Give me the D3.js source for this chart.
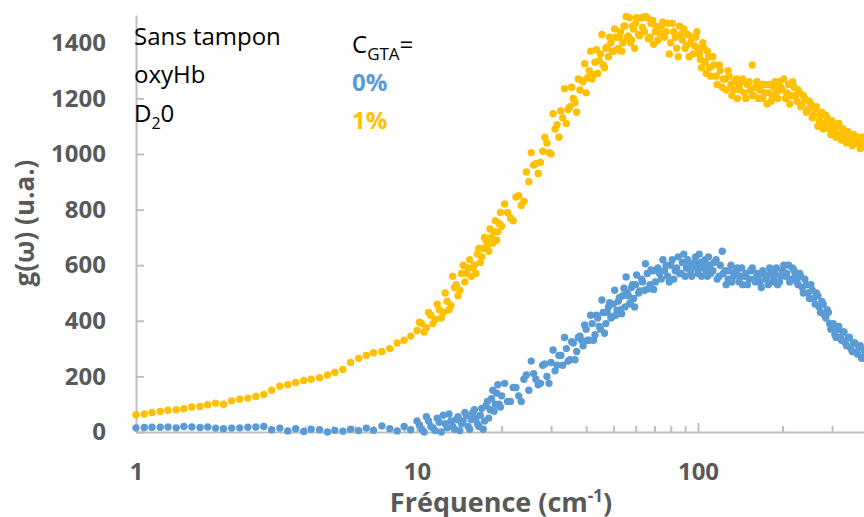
<!DOCTYPE html>
<html>
<head>
<meta charset="utf-8">
<script src="https://cdn.jsdelivr.net/npm/d3@7"></script>
<style>
    body { margin: 0; background: #fff; }
    svg { display: block; font-family: "Open Sans", sans-serif; }
</style>
</head>
<body>
<svg id="chart" width="864" height="517"></svg>
<script>
// g(w) for C_GTA = 0% (blue), [frequency cm-1, value]
var gta0 = [
    [1.0,15],[1.07,16],[1.14,17],[1.22,17],[1.3,18],[1.39,15],[1.48,20],[1.58,18],[1.69,16],[1.8,18],
    [1.92,14],[2.05,12],[2.19,14],[2.34,15],[2.5,17],[2.67,18],[2.85,20],[3.04,8],[3.25,14],[3.47,4],
    [3.7,12],[3.95,2],[4.2,10],[4.5,8],[4.8,0],[5.1,6],[5.45,3],[5.8,10],[6.2,5],[6.6,14],
    [7.0,6],[7.5,22],[8.0,12],[8.5,4],[9.0,20],[9.5,8],[10,40],
    [10.4,10],[10.8,55],[11.2,20],[11.6,5],[12.0,35],[12.4,60],[12.8,15],[13.2,40],[13.6,10],[14.0,55],
    [14.4,30],[14.8,70],[15.2,20],[15.6,45],[16.0,80],[16.4,30],[16.8,60],[17.2,10],[17.6,95],[18.0,50],
    [18.4,120],[18.8,75],[19.2,140],[19.6,100],[20.0,130],
    [21,110],[22,160],[23,130],[24,190],[25,150],[26,210],[27,170],[28,240],[29,200],[30,250],
    [31,220],[32,275],[33,240],[34,300],[35,260],[36,320],[37,290],[38,345],[39,310],[40,370],
    [41,330],[42,390],[43,350],[44,410],[45,370],[46,430],[47,390],[48,450],[49,410],[50,460],
    [51,420],[52,470],[53,440],[54,490],[55,450],[56,500],[57,460],[58,520],[59,480],[60,530],
    [61.5,500],[63,550],[64.5,510],[66,570],[67.5,530],[69,580],[70.5,540],[72,590],[74,550],[76,580],
    [78,560],[80,600],[82,550],[84,590],[86,570],[88,610],[90,560],[92,620],[94,580],[96,600],
    [98,630],[100,570],[102,610],[104,590],[106,620],[108,560],[110,600],[113,580],[116,620],[119,560],
    [122,650],[125,580],[128,550],[131,600],[134,560],[137,580],[140,540],[143,590],[146,560],[150,530],
    [154,580],[158,550],[162,570],[166,540],[170,580],[174,550],[178,530],[182,570],[186,550],[190,590],
    [195,540],[200,580],[205,560],[210,600],[215,550],[220,580],[225,540],[230,570],[235,520],[240,550],
    [246,500],[252,530],[258,480],[264,500],[270,450],[276,470],[282,420],[288,440],[294,390],[300,380],
    [307,350],[314,370],[321,340],[328,360],[335,320],[342,340],[350,300],[358,320],[366,285],[374,305],
    [382,265],[390,295],[400,260],
    // second pass through the cloud
    [10.2,25],[10.6,0],[11.0,40],[11.4,15],[11.8,50],[12.2,0],[12.6,30],[13.0,65],[13.4,20],[13.8,45],
    [14.2,5],[14.6,40],[15.0,60],[15.4,10],[15.8,70],[16.2,50],[16.6,20],[17.0,85],[17.4,40],[17.8,110],
    [18.2,80],[18.6,150],[19.0,100],[19.4,170],[19.8,90],
    [20.5,175],[21.5,110],[22.5,160],[23.5,110],[24.5,205],[25.5,255],[26.5,190],[27.5,175],[28.5,245],[29.5,175],
    [30.5,295],[31.5,240],[32.5,275],[33.5,340],[34.5,255],[35.5,325],[36.5,260],[37.5,340],[38.5,330],[39.5,385],
    [40.5,330],[41.5,420],[42.5,330],[43.5,420],[44.5,380],[45.5,475],[46.5,355],[47.5,430],[48.5,465],[49.5,415],
    [50.5,510],[51.5,437],[52.5,483],[53.5,425],[54.5,517],[55.5,558],[56.5,490],[57.5,465],[58.5,530],[59.5,450],
    [60.5,565],[62,507],[63.5,540],[65,605],[66.5,515],[68,583],[69.5,513],[71,583],[73,570],[75,620],
    [77,600],[79,540],[81,620],[83,580],[85,630],[87,570],[89,640],[91,590],[93,600],[95,560],
    [97,610],[99,590],[101,640],[103,560],[105,600],[107,580],[109,630],[111,570],[114,610],[117,550],
    [120,600],[123,570],[126,530],[129,580],[132,540],[135,570],[138,590],[141,560],[144,530],[148,570],
    [152,550],[156,590],[160,540],[164,560],[168,520],[172,570],[176,560],[180,590],[184,540],[188,570],
    [192,530],[197,560],[202,600],[207,570],[212,540],[217,590],[222,560],[227,530],[232,560],[237,500],
    [243,530],[249,480],[255,510],[261,460],[267,490],[273,430],[279,460],[285,410],[291,430],[297,370],
    [303,390],[310,340],[317,380],[324,330],[331,360],[338,310],[346,340],[354,290],[362,320],[370,280],
    [378,310],[386,270],[395,290]
];

// g(w) for C_GTA = 1% (orange)
var gta1 = [
    [1.0,62],[1.07,65],[1.14,70],[1.22,74],[1.3,78],[1.39,80],[1.48,84],[1.58,90],[1.69,92],[1.8,98],
    [1.92,104],[2.05,100],[2.19,112],[2.34,118],[2.5,122],[2.67,128],[2.85,135],[3.04,150],[3.25,165],[3.47,170],
    [3.7,178],[3.95,185],[4.2,190],[4.5,195],[4.8,205],[5.1,215],[5.45,225],[5.8,250],[6.2,265],[6.6,275],
    [7.0,285],[7.5,290],[8.0,300],[8.5,320],[9.0,330],[9.5,345],[10,365],
    [10.4,390],[10.8,375],[11.2,420],[11.6,405],[12.0,440],[12.4,430],[12.8,470],[13.2,455],[13.6,520],[14.0,490],
    [14.4,570],[14.8,540],[15.2,590],[15.6,560],[16.0,600],[16.4,640],[16.8,610],[17.2,660],[17.6,690],[18.0,650],
    [18.4,700],[18.8,720],[19.2,690],[19.6,750],[20.0,740],
    [21,790],[22,760],[23,850],[24,830],[25,900],[26,960],[27,930],[28,1010],[29,1040],[30,1000],
    [31,1090],[32,1060],[33,1130],[34,1110],[35,1170],[36,1200],[37,1150],[38,1230],[39,1260],[40,1220],
    [41,1300],[42,1270],[43,1330],[44,1290],[45,1360],[46,1320],[47,1380],[48,1350],[49,1400],[50,1370],
    [51,1420],[52,1380],[53,1440],[54,1400],[55,1460],[56,1420],[57,1490],[58,1410],[59,1450],[60,1470],
    [61.5,1430],[63,1490],[64.5,1440],[66,1490],[67.5,1420],[69,1480],[70.5,1440],[72,1410],[74,1460],[76,1420],
    [78,1470],[80,1400],[82,1440],[84,1380],[86,1460],[88,1410],[90,1380],[92,1430],[94,1400],[96,1360],
    [98,1420],[100,1380],[102,1340],[104,1400],[106,1330],[108,1370],[110,1310],[113,1350],[116,1280],[119,1320],
    [122,1240],[125,1270],[128,1300],[131,1250],[134,1230],[137,1270],[140,1240],[143,1260],[146,1220],[150,1250],
    [154,1230],[156,1320],[158,1210],[162,1260],[166,1230],[170,1200],[174,1250],[178,1220],[182,1190],[186,1240],
    [190,1220],[195,1260],[200,1230],[205,1200],[210,1250],[215,1210],[220,1240],[225,1190],[230,1220],[235,1180],
    [240,1200],[246,1160],[252,1180],[258,1140],[264,1170],[270,1120],[276,1150],[282,1110],[288,1130],[294,1090],
    [300,1120],[307,1080],[314,1100],[321,1070],[328,1090],[335,1060],[342,1080],[350,1050],[358,1070],[366,1040],
    [374,1060],[382,1030],[390,1050],[400,1020],
    // second pass through the cloud
    [10.2,395],[10.6,360],[11.0,430],[11.4,390],[11.8,460],[12.2,410],[12.6,500],[13.0,440],[13.4,560],[13.8,530],
    [14.2,510],[14.6,600],[15.0,570],[15.4,620],[15.8,590],[16.2,570],[16.6,660],[17.0,630],[17.4,700],[17.8,670],
    [18.2,730],[18.6,680],[19.0,760],[19.4,720],[19.8,790],
    [20.5,820],[21.5,770],[22.5,845],[23.5,815],[24.5,935],[25.5,1005],[26.5,965],[27.5,970],[28.5,1060],[29.5,1005],
    [30.5,1145],[31.5,1105],[32.5,1155],[33.5,1235],[34.5,1160],[35.5,1240],[36.5,1185],[37.5,1270],[38.5,1265],[39.5,1325],
    [40.5,1275],[41.5,1370],[42.5,1285],[43.5,1375],[44.5,1335],[45.5,1430],[46.5,1310],[47.5,1385],[48.5,1420],[49.5,1370],
    [50.5,1450],[51.5,1375],[52.5,1420],[53.5,1370],[54.5,1460],[55.5,1495],[56.5,1425],[57.5,1400],[58.5,1460],[59.5,1380],
    [60.5,1490],[62,1425],[63.5,1455],[65,1495],[66.5,1415],[68,1470],[69.5,1395],[71,1460],[73,1435],[75,1475],
    [77,1440],[79,1360],[81,1470],[83,1420],[85,1350],[87,1430],[89,1450],[91,1390],[93,1350],[95,1420],
    [97,1390],[99,1440],[101,1360],[103,1310],[105,1380],[107,1290],[109,1350],[111,1280],[114,1320],[117,1250],
    [120,1300],[123,1270],[126,1230],[129,1280],[132,1210],[135,1260],[138,1200],[141,1230],[144,1270],[148,1200],
    [152,1260],[156,1210],[160,1240],[164,1200],[168,1250],[172,1220],[176,1180],[180,1250],[184,1210],[188,1260],
    [192,1200],[197,1240],[202,1270],[207,1220],[212,1180],[217,1260],[222,1210],[227,1230],[232,1170],[237,1210],
    [243,1150],[249,1190],[255,1130],[261,1160],[267,1100],[273,1140],[279,1090],[285,1140],[291,1100],[297,1070],
    [303,1100],[310,1060],[317,1110],[324,1050],[331,1080],[338,1040],[346,1070],[354,1030],[362,1060],[370,1040],
    [378,1020],[386,1060],[395,1030]
];

var yTicks = [0, 200, 400, 600, 800, 1000, 1200, 1400];
var xMajor = [1, 10, 100];
var xMinor = [2,3,4,5,6,7,8,9, 20,30,40,50,60,70,80,90, 200,300,400,500,600,700,800,900];

var blue = "#5B9BD5", orange = "#FFC000", axisGrey = "#BFBFBF", labelGrey = "#595959";

var svg = d3.select("#chart");

// the plot runs past the right edge of the picture (1 -> 1000)
var x = d3.scaleLog().domain([1, 1000]).range([136, 979]);
var y = d3.scaleLinear().domain([0, 1500]).range([432, 15]);

// y axis, ticks pointing into the plot
var yAxis = svg.append("g")
    .attr("transform", "translate(136,0)")
    .call(d3.axisLeft(y).tickValues(yTicks).tickSize(-8).tickSizeOuter(0).tickPadding(30)
        .tickFormat(d3.format("d")));

// x axis: minor ticks, then majors with labels
var xMinorAxis = svg.append("g")
    .attr("transform", "translate(0,432)")
    .call(d3.axisBottom(x).tickValues(xMinor).tickSize(-6).tickSizeOuter(0).tickFormat(""));
xMinorAxis.select(".domain").remove();

var xAxis = svg.append("g")
    .attr("transform", "translate(0,432)")
    .call(d3.axisBottom(x).tickValues(xMajor).tickSize(-9).tickSizeOuter(0).tickPadding(31)
        .tickFormat(d3.format("d")));

svg.selectAll(".domain, .tick line")
    .attr("stroke", axisGrey)
    .attr("stroke-width", 2);

svg.selectAll(".tick text")
    .attr("fill", labelGrey)
    .style("font-family", "'Open Sans', sans-serif")
    .style("font-size", "24px")
    .style("font-weight", "bold");

// the points
svg.append("g")
    .selectAll("circle")
    .data(gta0)
    .enter()
    .append("circle")
    .attr("cx", d => x(d[0]))
    .attr("cy", d => y(d[1]))
    .attr("r", 3.7)
    .attr("fill", blue);

svg.append("g")
    .selectAll("circle")
    .data(gta1)
    .enter()
    .append("circle")
    .attr("cx", d => x(d[0]))
    .attr("cy", d => y(d[1]))
    .attr("r", 3.7)
    .attr("fill", orange);

// axis titles
var xTitle = svg.append("text")
    .attr("x", 501)
    .attr("y", 512)
    .attr("text-anchor", "middle")
    .attr("fill", labelGrey)
    .style("font-size", "27px")
    .style("font-weight", "bold");
xTitle.append("tspan").text("Fréquence (cm");
xTitle.append("tspan").attr("dy", -10).style("font-size", "17px").text("-1");
xTitle.append("tspan").attr("dy", 10).text(")");

svg.append("text")
    .attr("transform", "translate(34,223) rotate(-90)")
    .attr("text-anchor", "middle")
    .attr("fill", labelGrey)
    .style("font-size", "26px")
    .style("font-weight", "bold")
    .text("g(ω) (u.a.)");

// notes in the top left corner
var notes = svg.append("g").style("font-size", "24px").attr("fill", "#000");
notes.append("text").attr("x", 134).attr("y", 45).text("Sans tampon");
notes.append("text").attr("x", 134).attr("y", 83).text("oxyHb");
var d2o = notes.append("text").attr("x", 134).attr("y", 122);
d2o.append("tspan").text("D");
d2o.append("tspan").attr("dy", 7).style("font-size", "16px").text("2");
d2o.append("tspan").attr("dy", -7).text("0");

var cgta = notes.append("text").attr("x", 352).attr("y", 53);
cgta.append("tspan").text("C");
cgta.append("tspan").attr("dy", 7).style("font-size", "17px").text("GTA");
cgta.append("tspan").attr("dy", -7).text("=");

notes.append("text").attr("x", 352).attr("y", 91)
    .attr("fill", blue).style("font-weight", "bold").text("0%");
notes.append("text").attr("x", 352).attr("y", 129)
    .attr("fill", orange).style("font-weight", "bold").text("1%");
</script>
</body>
</html>
